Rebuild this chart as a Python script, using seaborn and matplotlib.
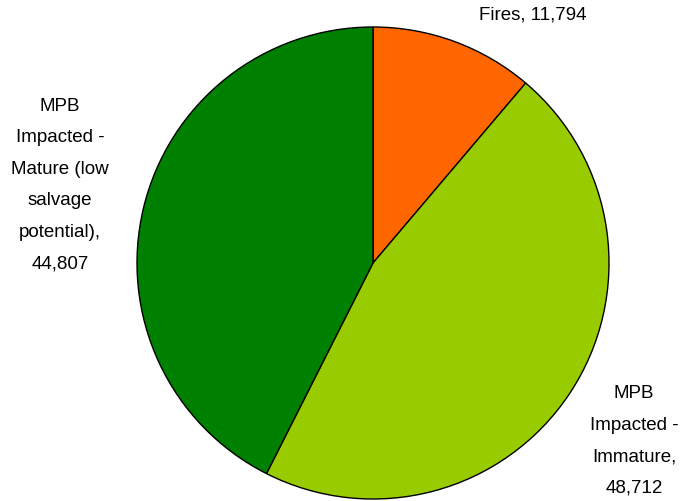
import matplotlib
matplotlib.use("Agg")
import matplotlib.pyplot as plt
import seaborn as sns

categories = ["Fires", "MPB\nImpacted -\nImmature", "MPB\nImpacted -\nMature (low\nsalvage\npotential)"]
values = [11794, 48712, 44807]
separators = [", ", ",\n", ",\n"]
colors = ["#FF6600", "#99CC00", "#008000"]

sns.set_theme(style="white")
plt.rcParams["font.family"] = ["Liberation Sans", "DejaVu Sans"]
plt.rcParams["text.color"] = "black"

fig = plt.figure(figsize=(6.95, 5.02), dpi=100)
ax = fig.add_axes([0, 0, 1, 1])
ax.pie(values, colors=colors, startangle=90, counterclock=False,
       center=(373, 238), radius=236,
       wedgeprops=dict(edgecolor="black", linewidth=1))
ax.set_xlim(0, 695)
ax.set_ylim(0, 502)
ax.set_aspect("equal")
ax.axis("off")

labels = [f"{c}{s}{v:,}" for c, s, v in zip(categories, separators, values)]
ax.text(533, 487, labels[0], ha="center", va="center", fontsize=13.5)
ax.text(634, 61, labels[1], ha="center", va="center", fontsize=13.5, linespacing=2.12)
ax.text(60, 317, labels[2], ha="center", va="center", fontsize=13.5, linespacing=2.12)

fig.savefig("out.png", dpi=100)
